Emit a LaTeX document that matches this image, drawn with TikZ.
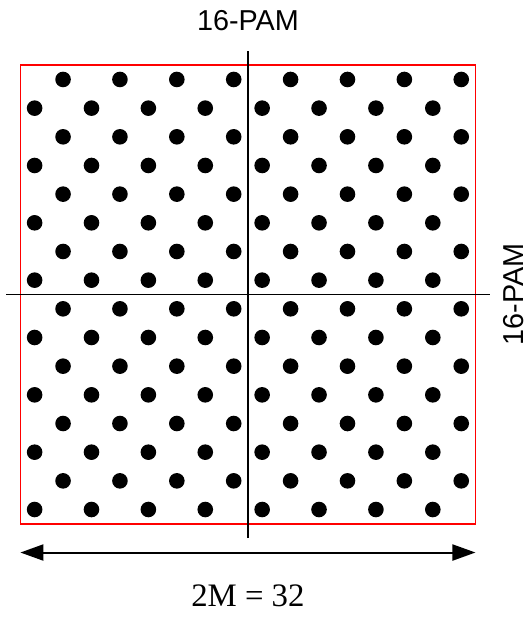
\documentclass[tikz,border=0pt]{standalone}
\usepackage{fontspec}
\setmainfont{Liberation Sans}
\newfontfamily\tiempos{Liberation Serif}
\usetikzlibrary{arrows.meta}

\begin{document}
\begin{tikzpicture}[x=1cm,y=1.008cm,
    eje/.style={line width=1.2pt},
    marco/.style={red, line width=1.5pt},
    flecha/.style={line width=2pt,
      {Triangle[length=23pt,width=16pt]}-{Triangle[length=23pt,width=16pt]}},
    etiqueta/.style={inner sep=0pt, font=\fontsize{28.8pt}{30pt}\selectfont}]
    % parámetros
    \def\L{8}      % medio lado del cuadrado
    \def\e{8.5}    % largo de los ejes
    \def\r{7.8pt}  % radio de los puntos

    \useasboundingbox (-8.717,-11.249) rectangle (9.877,10.272);

    %—————— Constelación ——————————————————————————————————————————————————
    % cuadrado
    \draw[marco] (-\L,-\L) rectangle (\L,\L);
    % puntos (cuadrícula alternada 16x16)
    \foreach \j in {0,...,15}
      \foreach \i in {0,...,7}
        \fill ({-7.5+2*\i+mod(\j+1,2)},{7.5-\j}) circle (\r);
    % ejes
    \draw[eje] (-\e,0) -- (\e,0);
    \draw[eje] (0,-\e) -- (0,\e);
    % etiquetas de los ejes
    \node[etiqueta] (pamh) at (0,9.56) {16-PAM};
    \node[etiqueta, rotate=90] (pamv) at (9.33,0) {16-PAM};

    %—————— Ancho ——————————————————————————————————————————————————————————
    \coordinate (izq) at (-\L,-9);
    \coordinate (der) at (\L,-9);
    \draw[flecha] (izq) -- (der);
    \node[inner sep=0pt, font=\tiempos\fontsize{32.8pt}{34pt}\selectfont]
      (ancho) at (0,-10.51) {2M = 32};
\end{tikzpicture}
\end{document}
